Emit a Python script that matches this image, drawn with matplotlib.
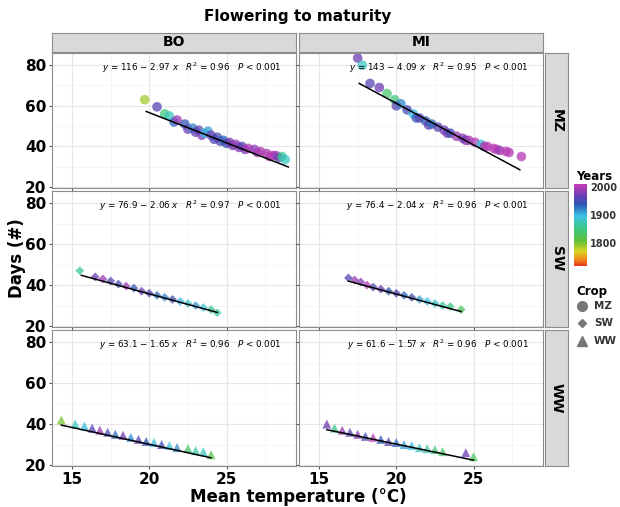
import numpy as np
import matplotlib
matplotlib.use("Agg")
import matplotlib.pyplot as plt
from matplotlib.colors import LinearSegmentedColormap, Normalize
from matplotlib.cm import ScalarMappable
from matplotlib.lines import Line2D

# facet labels
regions = ["BO", "MI"]
crops = ["MZ", "SW", "WW"]
crop_markers = {"MZ": "o", "SW": "D", "WW": "^"}
crop_sizes = {"MZ": 48, "SW": 20, "WW": 42}

# (temperature, days, year)
bo_mz_temp = [19.7, 20.5, 21.0, 21.3, 21.6, 21.8, 22.3, 22.5, 22.8, 23.0, 23.2, 23.4, 23.6, 23.8, 24.0,
              24.2, 24.4, 24.6, 24.8, 25.0, 25.2, 25.4, 25.6, 25.8, 26.0, 26.2, 26.4, 26.8, 27.0, 27.2,
              27.6, 27.8, 28.0, 28.2, 28.4, 28.6, 28.8]
bo_mz_days = [63, 59.5, 56, 55, 52, 53, 51, 48.5, 49, 47, 48, 45.5, 46.5, 47.5, 45.5,
              43.5, 44.5, 42.5, 43, 41.5, 42, 40.5, 41, 39.5, 40, 38.5, 39, 38.5, 37, 37.5,
              36.5, 35, 35.5, 35.5, 34.5, 35, 33.5]
bo_mz_year = [1790, 1960, 1850, 1880, 1930, 1990, 1940, 1970, 1920, 1965, 1960, 1975, 1900, 1910, 1970,
              1955, 1950, 1960, 1930, 1945, 1980, 1965, 1990, 1985, 1960, 1975, 2000, 1985, 1990, 2000,
              1995, 2000, 2005, 1990, 1970, 1860, 1880]

mi_mz_temp = [17.5, 17.8, 18.3, 18.9, 19.4, 19.9, 20.0, 20.3, 20.7, 21.1, 21.3, 21.5, 21.9, 22.1, 22.3,
              22.7, 23.1, 23.3, 23.5, 23.9, 24.3, 24.5, 24.7, 25.1, 25.5, 25.7, 25.9, 26.3, 26.5, 26.7,
              27.1, 27.3, 28.1]
mi_mz_days = [83.5, 80, 71, 69, 66, 63, 60, 61, 58, 56, 54, 54, 52.5, 50.5, 51,
              49.5, 48, 46.5, 46.5, 45, 44, 43, 43, 42, 41, 40, 40, 39, 38.5, 38,
              37.5, 37, 35]
mi_mz_year = [1970, 1880, 1960, 1970, 1840, 1850, 1960, 1920, 1950, 1900, 1940, 1960, 1940, 1965, 1930,
              1960, 1970, 1975, 1950, 1990, 1980, 1970, 1995, 2000, 1890, 1990, 2005, 2000, 2005, 1990,
              2005, 2000, 2000]

bo_sw_temp = [15.5, 16.5, 17.0, 17.5, 18.0, 18.5, 19.0, 19.5, 20.0, 20.5, 21.0, 21.5, 22.0, 22.5, 23.0,
              23.5, 24.0, 24.4]
bo_sw_days = [47, 44, 43, 42, 40.5, 39.5, 38.5, 37, 36, 35, 34, 33, 32, 31, 30, 29, 28, 26.5]
bo_sw_year = [1860, 1970, 1990, 1960, 1950, 1990, 1940, 1970, 1960, 1930, 1920, 1950, 1900, 1880, 1910,
              1890, 1860, 1870]

mi_sw_temp = [16.9, 17.3, 17.7, 18.1, 18.5, 19.0, 19.5, 20.0, 20.5, 21.0, 21.5, 22.0, 22.5, 23.0, 23.5,
              24.2]
mi_sw_days = [43.5, 42.5, 41.5, 40, 39, 38, 37, 36, 35, 34, 33, 32, 31, 30, 29.5, 28]
mi_sw_year = [1960, 1990, 1980, 2000, 1950, 1970, 1940, 1960, 1930, 1950, 1910, 1900, 1880, 1870, 1850,
              1830]

bo_ww_temp = [14.3, 15.2, 15.8, 16.3, 16.8, 17.3, 17.8, 18.3, 18.8, 19.3, 19.8, 20.3, 20.8, 21.3, 21.8,
              22.5, 23.0, 23.5, 24.0]
bo_ww_days = [42, 40, 39, 38, 37, 36, 35, 34.5, 33.5, 32.5, 31.5, 31, 30, 29.5, 28.5, 28, 27, 26.5, 25]
bo_ww_year = [1800, 1880, 1900, 1960, 1990, 1950, 1930, 1970, 1920, 1960, 1940, 1900, 1950, 1890, 1920,
              1840, 1870, 1880, 1820]

mi_ww_temp = [15.5, 16.0, 16.5, 17.0, 17.5, 18.0, 18.5, 19.0, 19.5, 20.0, 20.5, 21.0, 21.5, 22.0, 22.5,
              23.0, 24.5, 25.0]
mi_ww_days = [40, 38, 37, 36, 35, 34, 33.5, 32.5, 31.5, 31, 30, 29.5, 28.5, 28, 27.5, 26.5, 26, 24]
mi_ww_year = [1970, 1860, 1990, 1960, 1980, 1950, 2000, 1940, 1960, 1930, 1910, 1900, 1880, 1870, 1850,
              1840, 1970, 1830]

# regression: intercept, slope, R2, fitted temperature range
fits = {
    ("BO", "MZ"): (116, -2.97, "0.96", 19.8, 29.0),
    ("MI", "MZ"): (143, -4.09, "0.95", 17.6, 28.0),
    ("BO", "SW"): (76.9, -2.06, "0.97", 15.6, 24.4),
    ("MI", "SW"): (76.4, -2.04, "0.96", 16.9, 24.2),
    ("BO", "WW"): (63.1, -1.65, "0.96", 14.3, 24.0),
    ("MI", "WW"): (61.6, -1.57, "0.96", 15.5, 25.0),
}

panels = {
    ("BO", "MZ"): (bo_mz_temp, bo_mz_days, bo_mz_year),
    ("MI", "MZ"): (mi_mz_temp, mi_mz_days, mi_mz_year),
    ("BO", "SW"): (bo_sw_temp, bo_sw_days, bo_sw_year),
    ("MI", "SW"): (mi_sw_temp, mi_sw_days, mi_sw_year),
    ("BO", "WW"): (bo_ww_temp, bo_ww_days, bo_ww_year),
    ("MI", "WW"): (mi_ww_temp, mi_ww_days, mi_ww_year),
}

year_ticks = [1800, 1900, 2000]
year_min, year_max = 1720, 2010

cmap = LinearSegmentedColormap.from_list("years", [
    (0.00, "#e8361e"), (0.08, "#f08a1c"), (0.18, "#d8d424"), (0.31, "#5cc03c"),
    (0.47, "#3cc88a"), (0.61, "#3cc4e6"), (0.75, "#2a58b4"), (0.86, "#6a3cb4"),
    (1.00, "#c83cb4")])
norm = Normalize(year_min, year_max)

W, H = 620, 507
fig = plt.figure(figsize=(6.2, 5.07), dpi=100)

def box(x0, y0, x1, y1):
    return [x0 / W, 1 - y1 / H, (x1 - x0) / W, (y1 - y0) / H]

col_x = [(52, 296), (299, 543)]
row_y = [(53, 188), (191, 327), (330, 466)]
bold = dict(fontweight="bold")

for ci, reg in enumerate(regions):
    # top strip
    sax = fig.add_axes(box(col_x[ci][0], 33, col_x[ci][1], 52))
    sax.set_facecolor("#d9d9d9")
    sax.set_xticks([]); sax.set_yticks([])
    for s in sax.spines.values():
        s.set_color("#8c8c8c")
    sax.text(0.5, 0.5, reg, ha="center", va="center", fontsize=10, **bold)
    for ri, crop in enumerate(crops):
        ax = fig.add_axes(box(col_x[ci][0], row_y[ri][0], col_x[ci][1], row_y[ri][1]))
        ax.set_xlim(13.7, 29.5)
        ax.set_ylim(19.5, 86)
        ax.set_xticks([15, 20, 25])
        ax.set_xticks([17.5, 22.5, 27.5], minor=True)
        ax.set_yticks([20, 40, 60, 80])
        ax.set_yticks([30, 50, 70], minor=True)
        ax.grid(which="major", color="#e6e6e6", lw=0.8)
        ax.grid(which="minor", color="#f2f2f2", lw=0.5)
        ax.set_axisbelow(True)
        ax.tick_params(which="minor", length=0)
        ax.tick_params(which="major", length=2.5, color="#555555", labelsize=11, pad=1.5)
        for s in ax.spines.values():
            s.set_color("#8c8c8c")
        if ci == 0:
            for lab in ax.get_yticklabels():
                lab.set_fontweight("bold")
        else:
            ax.set_yticklabels([])
        if ri == 2:
            for lab in ax.get_xticklabels():
                lab.set_fontweight("bold")
        else:
            ax.set_xticklabels([])

        t, d, yr = panels[(reg, crop)]
        ax.scatter(t, d, c=yr, cmap=cmap, norm=norm, marker=crop_markers[crop],
                   s=crop_sizes[crop], alpha=0.75, linewidths=0, zorder=2)
        a, b, r2, x0, x1 = fits[(reg, crop)]
        xs = np.array([x0, x1])
        ax.plot(xs, a + b * xs, color="black", lw=1.1, zorder=3)
        eq = r"$y$ = %s $-$ %.2f $x$   $R^2$ = %s   $P$ < 0.001" % (a if a % 1 else int(a), -b, r2)
        ax.text(0.94, 0.89, eq, transform=ax.transAxes, ha="right", va="center", fontsize=6.3)

        if ci == 1:
            rax = fig.add_axes(box(545, row_y[ri][0], 568, row_y[ri][1]))
            rax.set_facecolor("#d9d9d9")
            rax.set_xticks([]); rax.set_yticks([])
            for s in rax.spines.values():
                s.set_color("#8c8c8c")
            rax.text(0.5, 0.5, crop, ha="center", va="center", rotation=-90, fontsize=10, **bold)

fig.text(298 / W, 1 - 17 / H, "Flowering to maturity", ha="center", va="center", fontsize=11, **bold)
fig.text(17 / W, 1 - 258 / H, "Days (#)", ha="center", va="center", rotation=90, fontsize=12, **bold)
fig.text(298 / W, 1 - 497 / H, "Mean temperature (°C)", ha="center", va="center", fontsize=12, **bold)

# Years colour bar
cax = fig.add_axes(box(574, 184, 587, 266))
cb = fig.colorbar(ScalarMappable(norm=norm, cmap=cmap), cax=cax, ticks=year_ticks)
cb.outline.set_visible(False)
cax.tick_params(length=0, labelsize=7, pad=2)
for lab in cax.get_yticklabels():
    lab.set_fontweight("bold")
    lab.set_color("#333333")
fig.text(576 / W, 1 - 177 / H, "Years", ha="left", va="center", fontsize=8.5, **bold)

# Crop legend
fig.text(576 / W, 1 - 291 / H, "Crop", ha="left", va="center", fontsize=8.5, **bold)
leg_y = [306, 323, 341]
leg_size = {"MZ": 7, "SW": 4.5, "WW": 7.5}
for crop, yy in zip(crops, leg_y):
    fig.add_artist(Line2D([582 / W], [1 - yy / H], marker=crop_markers[crop], color="#777777",
                          markersize=leg_size[crop], lw=0, transform=fig.transFigure))
    fig.text(594 / W, 1 - yy / H, crop, ha="left", va="center", fontsize=7.5, color="#333333", **bold)

fig.savefig("out.png", dpi=100)
